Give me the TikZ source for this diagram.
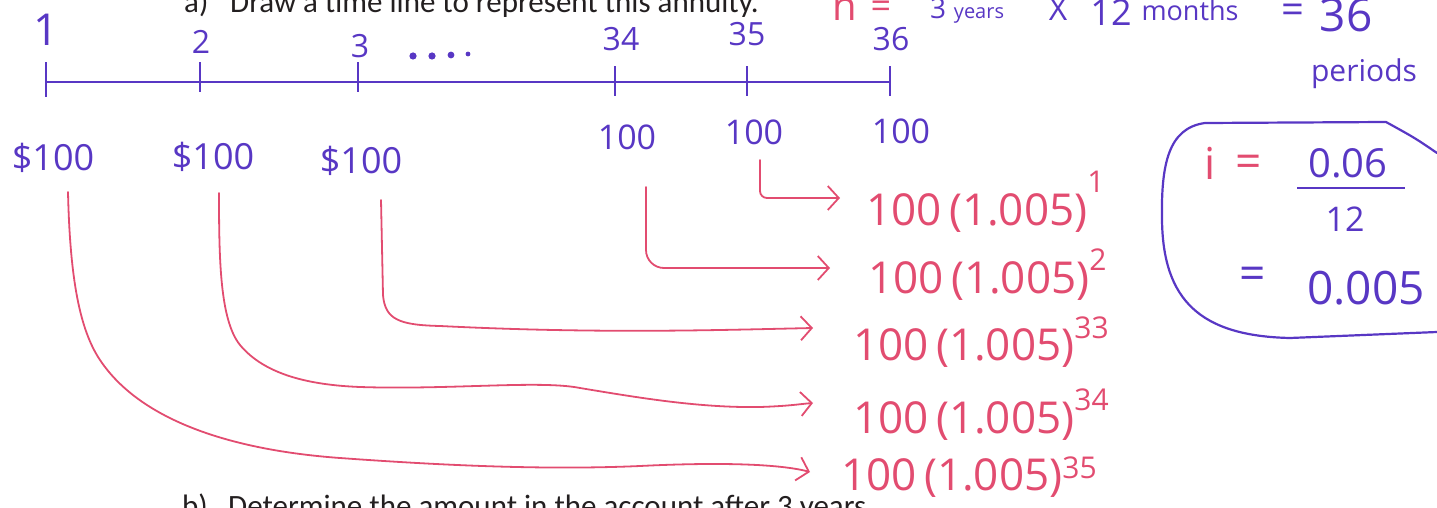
\documentclass[tikz,border=0pt]{standalone}
\usepackage{fontspec}
\setmainfont{Carlito}
\newfontfamily\hand{Open Sans}
\usetikzlibrary{arrows.meta}
\definecolor{ink}{RGB}{88,55,196}
\definecolor{pen}{RGB}{226,76,112}
\definecolor{prt}{RGB}{35,31,32}
\newcommand\fs[1]{\fontsize{#1}{#1}\selectfont}
\newcommand\ex[2]{\raisebox{#1pt}{\fs{30}#2}}
\tikzset{
  printed/.style={text=prt, font=\fs{31}, inner sep=0pt},
  blue hand/.style={text=ink, font=\hand, inner sep=0pt},
  red hand/.style={text=pen, font=\hand, inner sep=0pt},
  axis/.style={draw=ink, line width=2.6pt},
  tick/.style={draw=ink, line width=2pt},
  conn/.style={draw=pen, line width=1.8pt, line cap=round, line join=round,
    -{Straight Barb[length=11pt,width=24pt,line width=1.8pt]}},
  ring/.style={draw=ink, line width=2.2pt, line cap=round},
}
\begin{document}
\begin{tikzpicture}[x=1pt,y=-1pt]
\useasboundingbox (0,0) rectangle (1437,508);
% printed question text (cut by the page)
\node[printed, anchor=base west] (qa) at (184,13) {a)};
\node[printed, anchor=base west] (qat) at (230,13) {Draw a time line to represent this annuity.};
\node[printed, anchor=base west] (qb) at (182,516) {b)};
\node[printed, anchor=base west] (qbt) at (228,516) {Determine the amount in the account after 3 years.};
% time line
\coordinate (t1) at (46,82);
\coordinate (t2) at (200,82);
\coordinate (t3) at (358,82);
\coordinate (t34) at (615,82);
\coordinate (t35) at (747,82);
\coordinate (t36) at (890,82);
\draw[axis] (t1) -- (t36);
\draw[tick] ([yshift=-15pt]t1) -- ([yshift=20pt]t1);
\foreach \t in {t2,t3} \draw[tick] ([yshift=-10pt]\t) -- ([yshift=20pt]\t);
\foreach \t in {t34,t35,t36} \draw[tick] ([yshift=-14pt]\t) -- ([yshift=16pt]\t);
% tick labels
\node[blue hand, font=\hand\fs{44}] (l1) at (46,30) {1};
\node[blue hand, font=\hand\fs{32}] (l2) at (201,42) {2};
\node[blue hand, font=\hand\fs{32}] (l3) at (360,46) {3};
\fill[ink] (413,56) circle (3.6) (432,56) circle (3.6) (451,55) circle (3.4) (468,54) circle (2.4);
\node[blue hand, font=\hand\fs{32}] (l34) at (621,39) {34};
\node[blue hand, font=\hand\fs{32}] (l35) at (747,34) {35};
\node[blue hand, font=\hand\fs{32}] (l36) at (891,39) {36};
% n = 3 years x 12 months = 36 periods
\node[red hand, font=\hand\fs{40}, anchor=base] (nn) at (845,21) {n};
\node[red hand, font=\hand\fs{36}, anchor=base] (neq) at (881,19) {=};
\node[blue hand, font=\hand\fs{28}, anchor=base] (n3) at (938,19) {3};
\node[blue hand, font=\hand\fs{20}, anchor=base] (nyr) at (979,19) {years};
\node[blue hand, font=\hand\fs{32}, anchor=base] (nx) at (1058,21) {X};
\node[blue hand, font=\hand\fs{36}, anchor=base] (n12) at (1111,26) {12};
\node[blue hand, font=\hand\fs{27}, anchor=base] (nmo) at (1190,21) {months};
\node[blue hand, font=\hand\fs{40}, anchor=base] (neq2) at (1293,24) {=};
\node[blue hand, font=\hand\fs{46}, anchor=base] (n36) at (1346,32) {36};
\node[blue hand, font=\hand\fs{30}, anchor=base] (nper) at (1364,82) {periods};
% payments
\node[blue hand, font=\hand\fs{36}] (p1) at (53,158) {\$100};
\node[blue hand, font=\hand\fs{36}] (p2) at (213,157) {\$100};
\node[blue hand, font=\hand\fs{36}] (p3) at (361,161) {\$100};
\node[blue hand, font=\hand\fs{34}] (p34) at (627,137) {100};
\node[blue hand, font=\hand\fs{34}] (p35) at (754,132) {100};
\node[blue hand, font=\hand\fs{34}] (p36) at (901,131) {100};
% accumulated values
\node[red hand, font=\hand\fs{44}, anchor=base west] (r1) at (866,225) {100\,(1.005)\ex{33}{1}};
\node[red hand, font=\hand\fs{44}, anchor=base west] (r2) at (868,293) {100\,(1.005)\ex{23}{2}};
\node[red hand, font=\hand\fs{44}, anchor=base west] (r33) at (853,360) {100\,(1.005)\ex{22}{33}};
\node[red hand, font=\hand\fs{44}, anchor=base west] (r34) at (853,433) {100\,(1.005)\ex{23}{34}};
\node[red hand, font=\hand\fs{44}, anchor=base west] (r35) at (841,490) {100\,(1.005)\ex{12}{35}};
% connector ends
\path (p1.center) ++(15,34) coordinate (s1);
\path (p2.center) ++(6,36) coordinate (s2);
\path (p3.center) ++(20,39) coordinate (s3);
\path (p34.center) ++(19,50) coordinate (s34);
\path (p35.center) ++(6,28) coordinate (s35);
\path (r1.base west) ++(-26,-27) coordinate (e35);
\path (r2.base west) ++(-38,-25) coordinate (e34);
\path (r33.base west) ++(-40,-32) coordinate (e3);
\path (r34.base west) ++(-40,-30) coordinate (e2);
\path (r35.base west) ++(-31,-18) coordinate (e1);
% connectors
\draw[conn, rounded corners=7pt] (s35) |- (e35);
\draw[conn, rounded corners=18pt] (s34) |- (e34);
\draw[conn] (s3) -- (383,295) .. controls (385,320) and (400,325) .. (440,326)
  .. controls (600,334) and (720,330) .. (e3);
\draw[conn] (s2) .. controls (219,260) and (220,320) .. (240,345)
  .. controls (265,375) and (310,385) .. (360,387)
  .. controls (450,390) and (540,380) .. (580,388)
  .. controls (640,398) and (700,408) .. (760,407)
  .. controls (790,406) and (800,404) .. (e2);
\draw[conn] (s1) .. controls (70,280) and (80,330) .. (100,360)
  .. controls (140,420) and (230,450) .. (340,458)
  .. controls (450,466) and (550,470) .. (640,466)
  .. controls (720,462) and (780,464) .. (e1);
% interest rate box
\draw[ring] (1437,153) .. controls (1415,138) .. (1386,122) -- (1205,123)
  .. controls (1168,128) and (1161,165) .. (1162,220)
  .. controls (1163,300) and (1200,336) .. (1290,338) -- (1437,332);
\node[red hand, font=\hand\fs{44}] (ii) at (1210,163) {i};
\node[red hand, font=\hand\fs{46}] (ieq) at (1249,166) {=};
\node[blue hand, font=\hand\fs{40}] (num) at (1348,163) {0.06};
\coordinate (fbl) at (1297,188);
\coordinate (fbr) at (1405,188);
\draw[tick] (fbl) -- (fbr);
\node[blue hand, font=\hand\fs{34}] (den) at (1345,219) {12};
\node[blue hand, font=\hand\fs{46}] (req) at (1253,278) {=};
\node[blue hand, font=\hand\fs{46}] (rate) at (1366,288) {0.005};
\end{tikzpicture}
\end{document}
